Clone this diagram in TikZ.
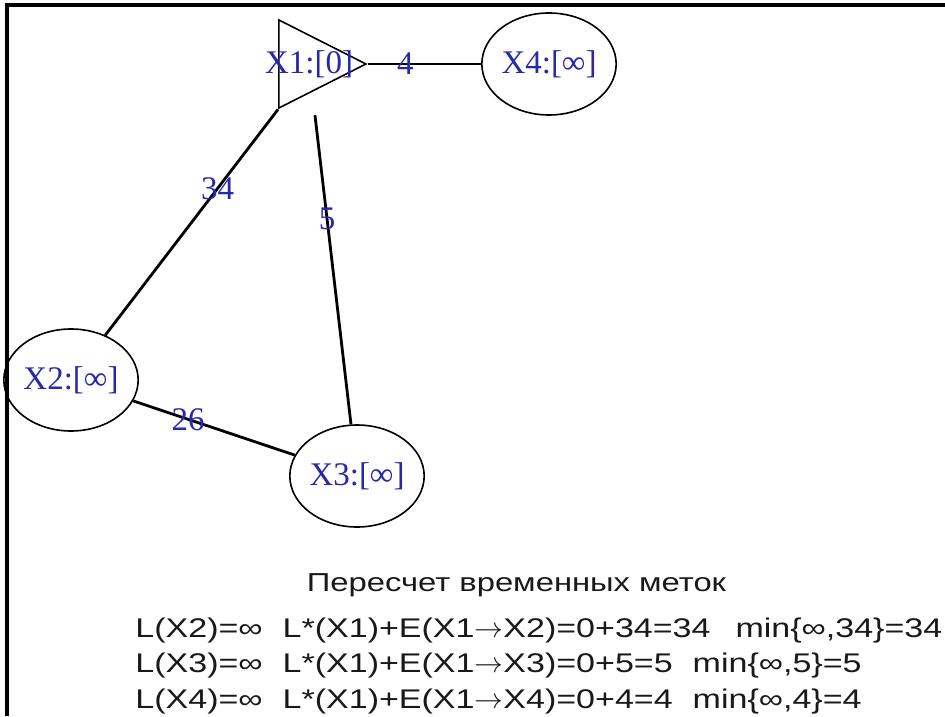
\documentclass[tikz,border=0pt]{standalone}
\usepackage{fontspec}
\setmainfont{Liberation Serif}
\newfontfamily\notesfont{Liberation Sans}[FakeStretch=1.26]
\usepackage{tikz}
\usetikzlibrary{shapes.geometric, positioning}
\definecolor{labelblue}{RGB}{40, 40, 170}
\definecolor{notegray}{RGB}{25, 25, 25}
\newcommand{\gap}[1][10pt]{\hspace{#1}}

\begin{document}
\begin{tikzpicture}[x=0.5pt, y=-0.5pt,
    vertex/.style={ellipse, draw, line width=0.8pt,
                   minimum width=59pt, minimum height=51pt, inner sep=0pt,
                   font=\fontsize{16.5}{18}\selectfont, text=labelblue},
    srcvertex/.style={isosceles triangle, isosceles triangle stretches,
                      draw, line width=0.8pt, inner sep=0pt,
                      minimum width=44pt, minimum height=43.5pt},
    wlabel/.style={font=\fontsize{16.5}{18}\selectfont, text=labelblue, inner sep=0pt},
    link/.style={line width=1.4pt},
    note/.style={font=\notesfont\fontsize{13.5}{16}\selectfont, text=notegray,
                 inner sep=0pt, text height=10pt, text depth=3pt},
]
\useasboundingbox (0,0) rectangle (945,716);
\draw[line width=1.6pt] (7,716) -- (7,5) -- (945,5);

% graph
\node[srcvertex, anchor=apex] (x1) at (368,64) {};
\node[wlabel] (x1lbl) at (309,64) {X1:[0]};
\node[vertex] (x4) at (549,64) {X4:[∞]};
\node[vertex] (x2) at (71,380) {X2:[∞]};
\node[vertex] (x3) at (357,476) {X3:[∞]};

\draw[link] (x1.apex) -- node[wlabel, pos=0.33] {4} (x4);
\draw[link] (x1.right corner) -- node[wlabel, pos=0.35] {34} (x2);
\draw[link, shorten <=25.8pt] (x1lbl.center) -- node[wlabel, pos=0.43] {5} (x3);
\draw[link] (x2) -- node[wlabel, pos=0.34] {26} (x3);

% recalculation
\node[note, font=\notesfont\fontsize{13}{16}\selectfont, anchor=base] (title) at (516.5,591) {Пересчет временных меток};
\node[note, anchor=base west] (l2) at (135,637) {L(X2)=∞\gap L*(X1)+E(X1$\rightarrow$X2)=0+34=34\gap[12.5pt]min\{∞,34\}=34};
\node[note, below right=4.5pt and 0pt of l2.south west] (l3) {L(X3)=∞\gap L*(X1)+E(X1$\rightarrow$X3)=0+5=5\gap min\{∞,5\}=5};
\node[note, below right=4.5pt and 0pt of l3.south west] (l4) {L(X4)=∞\gap L*(X1)+E(X1$\rightarrow$X4)=0+4=4\gap min\{∞,4\}=4};

\end{tikzpicture}
\end{document}
